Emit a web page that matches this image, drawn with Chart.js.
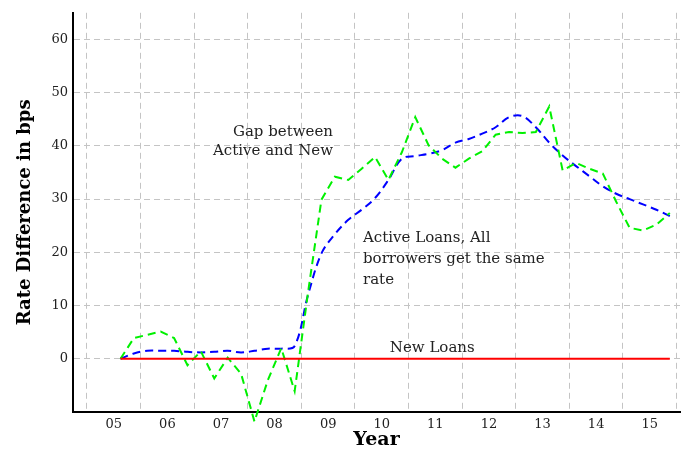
<!DOCTYPE html>
<html>
<head>
<meta charset="utf-8">
<script src="https://cdn.jsdelivr.net/npm/chart.js@4/dist/chart.umd.min.js"></script>
<style>
  html, body { margin: 0; padding: 0; background: #fff; }
  #wrap { width: 698px; height: 451px; position: relative; }
</style>
</head>
<body>
<div id="wrap"><canvas id="main-chart"></canvas></div>
<script>
// ── Data ──────────────────────────────────────────────────────────
const quarters = [
  '2005Q3', '2005Q4',
  '2006Q1', '2006Q2', '2006Q3', '2006Q4',
  '2007Q1', '2007Q2', '2007Q3', '2007Q4',
  '2008Q1', '2008Q2', '2008Q3', '2008Q4',
  '2009Q1', '2009Q2', '2009Q3', '2009Q4',
  '2010Q1', '2010Q2', '2010Q3', '2010Q4',
  '2011Q1', '2011Q2', '2011Q3', '2011Q4',
  '2012Q1', '2012Q2', '2012Q3', '2012Q4',
  '2013Q1', '2013Q2', '2013Q3', '2013Q4',
  '2014Q1', '2014Q2', '2014Q3', '2014Q4',
  '2015Q1', '2015Q2', '2015Q3', '2015Q4',
];

// blue dashed: active loans, everybody on the same rate
const activeLoans = [
  0.0, 1.0,
  1.5, 1.5, 1.5, 1.3,
  1.2, 1.3, 1.5, 1.2,
  1.5, 1.9, 1.9, 2.4,
  12.0, 19.8, 23.4, 26.1,
  28.0, 30.2, 33.6, 37.6,
  38.1, 38.5, 39.2, 40.6,
  41.3, 42.3, 43.5, 45.4,
  45.6, 43.5, 40.6, 38.2,
  36.2, 34.3, 32.4, 31.0,
  30.0, 29.0, 28.0, 26.8,
];

// green dashed: gap between active and new
const gapActiveNew = [
  0.0, 3.9,
  4.5, 5.1, 3.9, -1.2,
  1.4, -3.7, 0.2, -2.8,
  -11.8, -4.0, 2.0, -6.1,
  12.5, 29.9, 34.2, 33.6,
  35.7, 37.9, 33.6, 38.8,
  45.4, 40.1, 37.6, 35.9,
  37.6, 39.0, 42.1, 42.6,
  42.4, 42.6, 47.4, 35.4,
  36.8, 35.7, 34.8, 29.5,
  24.6, 24.1, 25.2, 27.4,
];

// red solid: new loans
const newLoans = [
  0, 0,
  0, 0, 0, 0,
  0, 0, 0, 0,
  0, 0, 0, 0,
  0, 0, 0, 0,
  0, 0, 0, 0,
  0, 0, 0, 0,
  0, 0, 0, 0,
  0, 0, 0, 0,
  0, 0, 0, 0,
  0, 0, 0, 0,
];

const yearLabels = ['05', '06', '07', '08', '09', '10', '11', '12', '13', '14', '15'];
const yearGrid   = [2005, 2006, 2007, 2008, 2009, 2010, 2011, 2012, 2013, 2014, 2015, 2016];
const yTicks     = [0, 10, 20, 30, 40, 50, 60];

const notes = [
  { lines: ['Gap between', 'Active and New'], x: 2009.59, y: 41.8, align: 'right', gap: 19 },
  { lines: ['Active Loans, All', 'borrowers get the same', 'rate'], x: 2010.15, y: 22.0, align: 'left', gap: 21 },
  { lines: ['New Loans'], x: 2010.65, y: 1.36, align: 'left', gap: 20 },
];

// ── Helpers ───────────────────────────────────────────────────────
const SERIF = "'DejaVu Serif', 'Liberation Serif', serif";

function quarterToX(q) {
  const yr = Number(q.slice(0, 4));
  const n  = Number(q.slice(5));
  return yr + (n - 0.5) / 4;
}

function toPoints(vals) {
  return vals.map((v, i) => ({ x: quarterToX(quarters[i]), y: v }));
}

function labelYear(lbl) {
  return 2000 + Number(lbl) + 0.5;
}

// text notes placed in data coordinates
const notesPlugin = {
  id: 'notes',
  afterDatasetsDraw(chart) {
    const { ctx, scales } = chart;
    ctx.save();
    ctx.font = '15px ' + SERIF;
    ctx.fillStyle = '#222';
    ctx.textBaseline = 'alphabetic';
    notes.forEach(n => {
      const px = scales.x.getPixelForValue(n.x);
      const py = scales.y.getPixelForValue(n.y);
      ctx.textAlign = n.align;
      n.lines.forEach((t, i) => ctx.fillText(t, px, py + i * n.gap));
    });
    ctx.restore();
  },
};

// ── Chart ─────────────────────────────────────────────────────────
const lineBase = {
  type: 'line',
  parsing: false,
  pointRadius: 0,
  fill: false,
  backgroundColor: 'transparent',
};

new Chart(document.getElementById('main-chart'), {
  type: 'scatter',
  data: {
    datasets: [
      {
        ...lineBase,
        label: 'New Loans',
        data: toPoints(newLoans),
        borderColor: '#ff0000',
        borderWidth: 2,
        tension: 0,
        order: 1,
      },
      {
        ...lineBase,
        label: 'Active Loans',
        data: toPoints(activeLoans),
        borderColor: '#0000ff',
        borderWidth: 2,
        borderDash: [8, 5],
        tension: 0.35,
        order: 3,
      },
      {
        ...lineBase,
        label: 'Gap',
        data: toPoints(gapActiveNew),
        borderColor: '#00f000',
        borderWidth: 2,
        borderDash: [8, 5],
        tension: 0,
        clip: false,
        order: 2,
      },
    ],
  },
  options: {
    responsive: true,
    maintainAspectRatio: false,
    animation: false,
    layout: { padding: { top: 9, right: 18, left: 0, bottom: 0 } },
    plugins: {
      legend: { display: false },
      tooltip: { enabled: false },
    },
    scales: {
      x: {
        type: 'linear',
        min: 2004.739,
        max: 2016.065,
        afterBuildTicks: s => {
          s.ticks = [
            ...yearGrid.map(v => ({ value: v })),
            ...yearLabels.map(l => ({ value: labelYear(l) })),
          ].sort((a, b) => a.value - b.value);
        },
        afterFit: s => { s.height = 39; },
        grid: {
          drawTicks: false,
          lineWidth: 1,
          color: c => (c.tick && Number.isInteger(c.tick.value)) ? '#c4c4c4' : 'transparent',
        },
        border: { color: '#000', width: 2, dash: [6, 4] },
        ticks: {
          autoSkip: false,
          maxRotation: 0,
          padding: 5,
          color: '#222',
          font: { family: SERIF, size: 13 },
          callback: v => {
            const l = yearLabels.find(y => Math.abs(labelYear(y) - v) < 1e-6);
            return l || '';
          },
        },
        title: {
          display: true,
          text: 'Year',
          color: '#000',
          font: { family: SERIF, size: 19, weight: 'bold' },
          padding: { top: 0, bottom: 0 },
        },
      },
      y: {
        min: -10,
        max: 65,
        afterBuildTicks: s => { s.ticks = yTicks.map(v => ({ value: v })); },
        afterFit: s => { s.width = 73; },
        grid: { drawTicks: false, color: '#c4c4c4', lineWidth: 1 },
        border: { color: '#000', width: 2, dash: [6, 4] },
        ticks: {
          padding: 5,
          color: '#222',
          font: { family: SERIF, size: 13 },
        },
        title: {
          display: true,
          text: 'Rate Difference in bps',
          color: '#000',
          font: { family: SERIF, size: 18, weight: 'bold' },
          padding: { top: 15, bottom: 0 },
        },
      },
    },
  },
  plugins: [notesPlugin],
});
</script>
</body>
</html>
